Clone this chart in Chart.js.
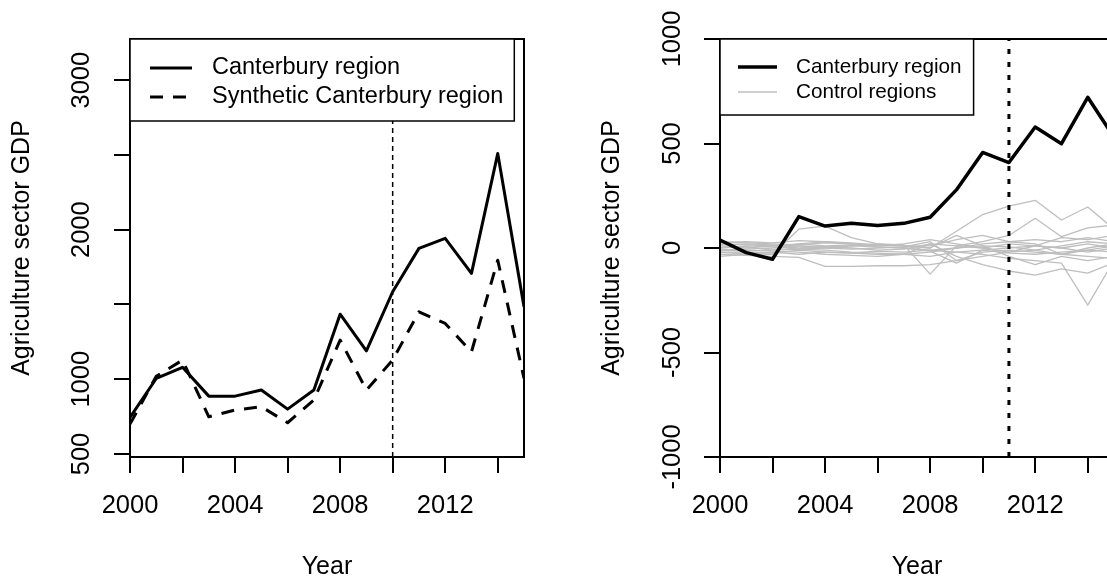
<!DOCTYPE html>
<html lang="en">
<head>
<meta charset="UTF-8">
<title>Canterbury agriculture GDP</title>
<script src="https://cdn.jsdelivr.net/npm/chart.js"></script>
<style>
  html, body { margin: 0; padding: 0; background: #fff; }
  #wrap { position: relative; width: 1107px; height: 584px; overflow: hidden; }
  canvas { position: absolute; top: 0; }
  #left { left: 0; }
  #right { left: 590px; }
</style>
</head>
<body>
<div id="wrap">
  <canvas id="left" width="553" height="584"></canvas>
  <canvas id="right" width="553" height="584"></canvas>
</div>
<script>
// --- data ---
const years = [2000, 2001, 2002, 2003, 2004, 2005, 2006, 2007, 2008, 2009, 2010, 2011, 2012, 2013, 2014, 2015];
const xTicks = [2000, 2002, 2004, 2006, 2008, 2010, 2012, 2014];
const xLabelYears = [2000, 2004, 2008, 2012];

// left panel: GDP levels
const canterbury = [745, 1005, 1080, 887, 887, 928, 800, 928, 1435, 1190, 1585, 1875, 1942, 1708, 2509, 1485];
const synthetic  = [700, 1020, 1128, 749, 794, 816, 709, 861, 1262, 928, 1128, 1451, 1373, 1183, 1796, 1006];
const leftYTicks = [500, 1000, 1500, 2000, 2500, 3000];
const leftYLabels = [500, 1000, 2000, 3000];
const leftYRange = [480, 3275];
const treatYear = 2010;

// right panel: gaps (treated minus synthetic)
const gapCanterbury = [38, -22, -54, 150, 105, 118, 108, 118, 147, 278, 457, 409, 579, 499, 721, 530];
const controlGaps = [
  [10, 5, -10, 20, 30, 25, 15, 10, 0, 80, 160, 200, 228, 134, 196, 90],
  [-10, -5, 0, 10, 5, 0, -10, -5, 20, 10, 30, 60, 142, 54, 96, 110],
  [0, 10, 5, -5, 0, 10, 5, 0, -10, -20, -30, -50, -60, -72, -273, -60],
  [20, 15, 10, 0, 5, 10, 20, 15, -125, 10, 0, -20, -10, 10, 30, 20],
  [-20, -30, -30, 90, 105, 50, 20, 10, 10, 40, 60, 30, 20, -30, -10, 10],
  [-30, -35, -40, -45, -88, -88, -85, -85, -80, -60, -40, -20, 10, 50, 40, 60],
  [-20, -20, -25, -10, -20, -25, -30, -30, 20, -40, -80, -110, -130, -100, -120, -70],
  [30, 25, 20, 15, 25, 20, 15, 10, 0, 60, 10, -40, -80, -40, -60, -40],
  [5, 0, 10, 20, 10, 15, 5, 0, -15, -72, -10, 0, 10, 0, 20, 0],
  [-40, -30, -20, -30, -20, -25, -15, -20, -10, 0, 20, 30, 40, 30, 50, 30],
  [15, 20, 15, 10, 0, -5, 0, 5, 30, -60, -20, -10, -20, -30, -40, -50],
  [-10, -15, -10, -5, -10, -20, -25, -30, -40, -20, -10, -25, -30, -20, -10, -20],
  [25, 30, 25, 35, 30, 20, 10, 20, 40, 20, 0, 20, 10, 0, -20, 0],
  [-5, -10, -15, -20, -30, -35, -40, -30, -20, 0, 10, 5, -10, -30, 0, 20]
];
const rightYTicks = [-1000, -500, 0, 500, 1000];
const rightYRange = [-1000, 1000];
const gapYear = 2011;

// --- helpers ---
Chart.defaults.font.family = '"Liberation Sans", Arial, sans-serif';
Chart.defaults.color = '#000';

const pts = vals => vals.map((v, i) => ({ x: years[i], y: v }));
const vline = (year, range) => [{ x: year, y: range[0] }, { x: year, y: range[1] }];

function axes(yRange, yTicks, yLabels, yPad) {
  return {
    x: {
      type: 'linear', min: 2000, max: 2015,
      afterBuildTicks: s => { s.ticks = xTicks.map(v => ({ value: v })); },
      afterFit: s => { s.height = 127; },
      ticks: { autoSkip: false, maxRotation: 0, padding: 18, font: { size: 25.5 },
               callback: v => xLabelYears.includes(v) ? String(v) : '' },
      grid: { drawOnChartArea: false, tickLength: 16, lineWidth: 2, color: '#000' },
      border: { display: true, color: '#000', width: 2 },
      title: { display: true, text: 'Year', font: { size: 25 }, padding: { top: 0, bottom: 2 } }
    },
    y: {
      type: 'linear', min: yRange[0], max: yRange[1],
      afterBuildTicks: s => { s.ticks = yTicks.map(v => ({ value: v })); },
      afterFit: s => { s.width = 130; },
      ticks: { autoSkip: false, minRotation: 90, maxRotation: 90, crossAlign: 'center',
               padding: yPad, font: { size: 25.5 },
               callback: v => yLabels.includes(v) ? String(v) : '' },
      grid: { drawOnChartArea: false, tickLength: 16, lineWidth: 2, color: '#000' },
      border: { display: true, color: '#000', width: 2 },
      title: { display: true, text: 'Agriculture sector GDP', font: { size: 25 }, padding: { top: 7, bottom: 0 } }
    }
  };
}

const boxPlugin = {
  id: 'plotBox',
  afterDatasetsDraw(chart) {
    const a = chart.chartArea, ctx = chart.ctx;
    ctx.save();
    ctx.strokeStyle = '#000';
    ctx.lineWidth = 2;
    ctx.strokeRect(a.left, a.top, a.right - a.left, a.bottom - a.top);
    ctx.restore();
  }
};

// legend box drawn inside the plot, top-left, like R's legend("topleft")
function legendBox(cfg) {
  return {
    id: 'legendBox',
    afterDatasetsDraw(chart) {
      const a = chart.chartArea, ctx = chart.ctx;
      ctx.save();
      ctx.font = cfg.fontSize + 'px "Liberation Sans", Arial, sans-serif';
      const items = cfg.entries.map(i => chart.data.datasets[i]);
      const tw = Math.max(...items.map(d => ctx.measureText(d.label).width));
      const w = cfg.textX + tw + cfg.rightPad;
      ctx.fillStyle = '#fff';
      ctx.fillRect(a.left, a.top, w, cfg.height);
      ctx.strokeStyle = '#000';
      ctx.lineWidth = 1.5;
      ctx.strokeRect(a.left, a.top, w, cfg.height);
      items.forEach((d, k) => {
        const y = a.top + cfg.rowY[k];
        ctx.beginPath();
        ctx.strokeStyle = d.borderColor;
        ctx.lineWidth = d.borderWidth;
        ctx.setLineDash(d.borderDash || []);
        ctx.moveTo(a.left + cfg.sampleX[0], y);
        ctx.lineTo(a.left + cfg.sampleX[1], y);
        ctx.stroke();
        ctx.setLineDash([]);
        ctx.fillStyle = '#000';
        ctx.textBaseline = 'middle';
        ctx.fillText(d.label, a.left + cfg.textX, y);
      });
      ctx.restore();
    }
  };
}

const common = {
  responsive: false,
  animation: false,
  devicePixelRatio: 1,
  layout: { padding: { top: 39, right: 29, left: 0, bottom: 0 } },
  elements: { point: { radius: 0 }, line: { tension: 0, fill: false, borderJoinStyle: 'round' } },
  plugins: { legend: { display: false }, tooltip: { enabled: false } }
};

new Chart(document.getElementById('left'), {
  type: 'line',
  data: {
    datasets: [
      { label: 'Canterbury region', data: pts(canterbury), borderColor: '#000', borderWidth: 3 },
      { label: 'Synthetic Canterbury region', data: pts(synthetic), borderColor: '#000', borderWidth: 3, borderDash: [13, 10] },
      { label: 'treatment', data: vline(treatYear, leftYRange), borderColor: '#000', borderWidth: 1.5, borderDash: [5, 4] }
    ]
  },
  options: Object.assign({}, common, { scales: axes(leftYRange, leftYTicks, leftYLabels, 4) }),
  plugins: [boxPlugin, legendBox({ entries: [0, 1], fontSize: 23.5, sampleX: [20, 62], textX: 82, rowY: [29, 58], height: 82, rightPad: 11 })]
});

new Chart(document.getElementById('right'), {
  type: 'line',
  data: {
    datasets: [
      { label: 'Canterbury region', data: pts(gapCanterbury), borderColor: '#000', borderWidth: 3.5 },
      { label: 'treatment', data: vline(gapYear, rightYRange), borderColor: '#000', borderWidth: 3, borderDash: [5, 8] },
      ...controlGaps.map(c => ({ label: 'Control regions', data: pts(c), borderColor: '#bebebe', borderWidth: 1.3 }))
    ]
  },
  options: Object.assign({}, common, { scales: axes(rightYRange, rightYTicks, rightYTicks, -2) }),
  plugins: [boxPlugin, legendBox({ entries: [0, 2], fontSize: 20.7, sampleX: [18, 57], textX: 76, rowY: [28, 53], height: 76, rightPad: 12 })]
});
</script>
</body>
</html>
